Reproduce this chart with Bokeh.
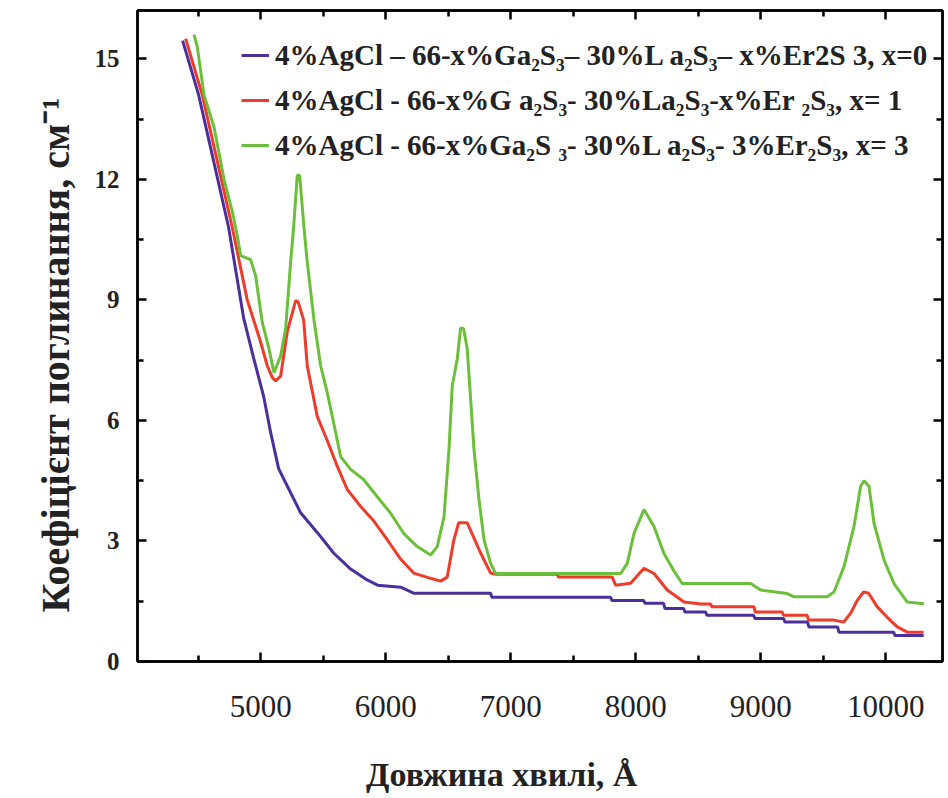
from bokeh.plotting import figure
from bokeh.models import Range1d, LinearAxis, FixedTicker, Legend, LegendItem, CustomJSTickFormatter, Title
from bokeh.embed import file_html
from bokeh.resources import INLINE

# ---- data (wavelength in Å, absorption coefficient in cm^-1) ----
wl_x0 = [4376, 4504, 4624, 4744, 4864, 4944, 5024, 5080, 5144, 5240, 5320, 5456, 5584,
         5720, 5840, 5936, 6120, 6224, 6840, 6850, 7800, 7810, 8064, 8074, 8224, 8234,
         8384, 8394, 8560, 8570, 8944, 8954, 9184, 9194, 9376, 9386, 9616, 9626, 10064,
         10074, 10304]
k_x0 = [15.45, 14.1, 12.45, 10.8, 8.55, 7.55, 6.6, 5.7, 4.8, 4.2, 3.7, 3.2, 2.7,
        2.3, 2.05, 1.9, 1.85, 1.7, 1.7, 1.6, 1.6, 1.52, 1.52, 1.45, 1.45, 1.32,
        1.32, 1.23, 1.23, 1.15, 1.15, 1.07, 1.07, 0.98, 0.98, 0.86, 0.86, 0.73, 0.73,
        0.65, 0.65]

wl_x1 = [4400, 4533, 4653, 4773, 4893, 4944, 5000, 5053, 5093, 5120, 5160, 5213, 5280,
         5300, 5344, 5373, 5453, 5533, 5613, 5693, 5800, 5904, 6013, 6120, 6224, 6360,
         6440, 6493, 6544, 6584, 6653, 6760, 6840, 6880, 7373, 7383, 7813, 7840, 7960,
         8067, 8147, 8253, 8387, 8520, 8600, 8610, 8947, 8957, 9173, 9183, 9373, 9383,
         9587, 9664, 9720, 9773, 9824, 9864, 9933, 10013, 10093, 10173, 10304]
k_x1 = [15.5, 14.1, 12.45, 10.8, 9.0, 8.5, 7.95, 7.36, 7.07, 6.98, 7.1, 8.2, 8.98,
        8.95, 8.5, 7.36, 6.1, 5.5, 4.86, 4.28, 3.86, 3.5, 3.03, 2.55, 2.2, 2.07,
        2.0, 2.1, 3.0, 3.45, 3.45, 2.7, 2.2, 2.17, 2.17, 2.1, 2.1, 1.9, 1.95,
        2.32, 2.19, 1.78, 1.48, 1.43, 1.43, 1.36, 1.36, 1.23, 1.23, 1.15, 1.15, 1.03,
        1.03, 0.98, 1.2, 1.52, 1.73, 1.7, 1.36, 1.1, 0.86, 0.73, 0.73]

wl_x3 = [4467, 4493, 4547, 4627, 4707, 4773, 4813, 4840, 4920, 4960, 5013, 5067, 5107,
         5160, 5200, 5240, 5264, 5293, 5312, 5347, 5373, 5427, 5480, 5533, 5584, 5640,
         5720, 5824, 5933, 6040, 6144, 6253, 6360, 6413, 6467, 6507, 6533, 6573, 6600,
         6624, 6653, 6680, 6707, 6747, 6787, 6840, 6880, 7880, 7933, 7987, 8067, 8147,
         8227, 8307, 8373, 8920, 9000, 9213, 9267, 9533, 9587, 9667, 9747, 9800, 9827,
         9867, 9907, 9987, 10067, 10173, 10307]
k_x3 = [15.6, 15.3, 14.1, 13.3, 12.0, 11.2, 10.6, 10.1, 10.0, 9.6, 8.44, 7.78, 7.19,
        7.6, 8.28, 9.94, 10.8, 12.1, 12.1, 10.8, 9.94, 8.5, 7.36, 6.69, 5.94, 5.1,
        4.78, 4.53, 4.1, 3.69, 3.19, 2.86, 2.65, 2.86, 3.6, 5.28, 6.86, 7.53, 8.3,
        8.28, 7.78, 6.53, 5.28, 4.03, 3.03, 2.44, 2.19, 2.19, 2.44, 3.19, 3.78, 3.36,
        2.69, 2.25, 1.94, 1.94, 1.78, 1.69, 1.61, 1.61, 1.73, 2.36, 3.36, 4.36, 4.5,
        4.36, 3.44, 2.53, 1.94, 1.48, 1.44]

labels = [
    "4%AgCl – 66-x%Ga₂S₃– 30%L a₂S₃– x%Er2S 3, x=0",
    "4%AgCl - 66-x%G a₂S₃- 30%La₂S₃-x%Er ₂S₃, x= 1",
    "4%AgCl - 66-x%Ga₂S ₃- 30%L a₂S₃- 3%Er₂S₃, x= 3",
]
colors = ["#4b2f9c", "#ee3b2a", "#6cbf3a"]

x_major = [5000, 6000, 7000, 8000, 9000, 10000]
x_minor = [4500, 5500, 6500, 7500, 8500, 9500]
y_major = [0, 3, 6, 9, 12, 15]
y_minor = [1.5, 4.5, 7.5, 10.5, 13.5]

x_title = "Довжина хвилі, Å"
y_title = "Коефіцієнт поглинання, см⁻¹"

FONT = "Liberation Serif"

p = figure(width=948, height=798, output_backend="svg", toolbar_location=None,
           x_range=Range1d(4015, 10455), y_range=Range1d(0, 16.2),
           min_border_left=137, min_border_right=6, min_border_top=10,
           min_border_bottom=137)
p.xgrid.visible = False
p.ygrid.visible = False
p.outline_line_color = "black"
p.outline_line_width = 2.5
p.background_fill_color = "white"
p.border_fill_color = "white"

renderers = []
for wl, k, c in [(wl_x0, k_x0, colors[0]), (wl_x1, k_x1, colors[1]), (wl_x3, k_x3, colors[2])]:
    renderers.append(p.line(wl, k, line_color=c, line_width=3))

def style_axis(ax, ticks, minor, show_labels):
    ax.ticker = FixedTicker(ticks=ticks, minor_ticks=minor)
    ax.axis_line_color = "black"
    ax.axis_line_width = 2.5
    ax.major_tick_line_color = "black"
    ax.major_tick_line_width = 2.5
    ax.minor_tick_line_color = "black"
    ax.minor_tick_line_width = 2.5
    ax.major_tick_in = 9
    ax.major_tick_out = 0
    ax.minor_tick_in = 6
    ax.minor_tick_out = 0
    if not show_labels:
        ax.formatter = CustomJSTickFormatter(code="return ''")
        ax.major_label_standoff = 0

xa = p.xaxis[0]
style_axis(xa, x_major, x_minor, True)
xa.major_label_text_font = FONT
xa.major_label_text_font_size = "31px"
xa.major_label_text_color = "#222222"
xa.major_label_standoff = 34
# trailing no-break spaces shift the centred title left, as in the source figure
xa.axis_label = x_title + "\u00a0" * 9
xa.axis_label_text_font = FONT
xa.axis_label_text_font_style = "bold"
xa.axis_label_text_font_size = "34px"
xa.axis_label_text_color = "#222222"
xa.axis_label_standoff = 36

ya = p.yaxis[0]
style_axis(ya, y_major, y_minor, True)
ya.major_label_text_font = FONT
ya.major_label_text_font_style = "bold"
ya.major_label_text_font_size = "25px"
ya.major_label_text_color = "#222222"
ya.major_label_standoff = 18

yt = Title(text=y_title, align="left", offset=49, standoff=28,
           text_font=FONT, text_font_style="bold", text_font_size="40px",
           text_color="#222222")
p.add_layout(yt, "left")

top_ax = LinearAxis()
style_axis(top_ax, x_major, x_minor, False)
p.add_layout(top_ax, "above")
right_ax = LinearAxis()
style_axis(right_ax, y_major, y_minor, False)
p.add_layout(right_ax, "right")

legend = Legend(
    items=[LegendItem(label=labels[i], renderers=[renderers[i]]) for i in range(3)],
    location=(104, 496), glyph_width=28, glyph_height=40, label_height=40,
    spacing=5, padding=0, margin=0, label_standoff=6,
    border_line_color=None, background_fill_alpha=0,
    label_text_font=FONT, label_text_font_style="bold",
    label_text_font_size="29px", label_text_color="#222222",
)
p.add_layout(legend)

open("out.html", "w").write(file_html(p, INLINE))
